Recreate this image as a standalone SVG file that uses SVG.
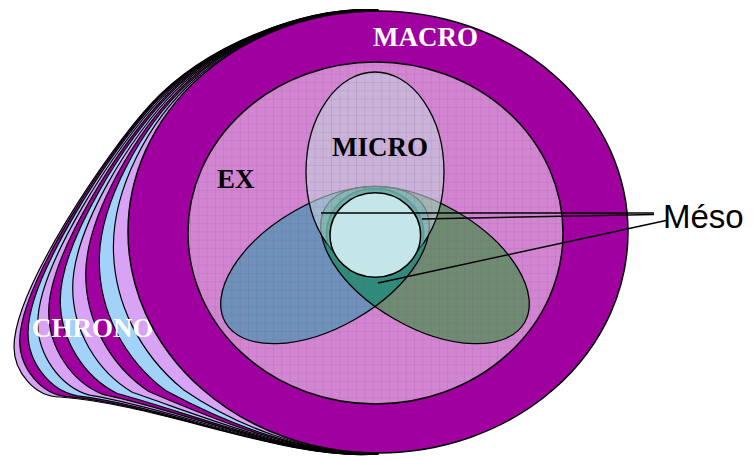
<svg xmlns="http://www.w3.org/2000/svg" width="753" height="459" viewBox="0 0 753 459">
<defs>
<style>
.band{stroke:#000;stroke-width:1.2;stroke-linejoin:round}
.lil{fill:#d9a3f5}.blu{fill:#a2d1fa}.pur{fill:#a000a0}
.edge{fill:none;stroke:#000;stroke-width:1.3}
.lbl{font-family:"Liberation Serif","Times New Roman",serif;font-weight:bold;font-size:27px}
.conn{stroke:#000;stroke-width:1.5;fill:none}
</style>
<pattern id="grid" width="8.3" height="8.3" patternUnits="userSpaceOnUse">
<path d="M8.3 0V8.3M0 8.3H8.3" fill="none" stroke="#7a2a7a" stroke-opacity="0.22" stroke-width="1"/>
</pattern>
<clipPath id="exClip"><ellipse cx="375.5" cy="233" rx="187.5" ry="171"/></clipPath>
<clipPath id="leftClip"><ellipse cx="325" cy="265" rx="115" ry="62" transform="rotate(-30 325 265)"/></clipPath>
</defs>

<g id="chrono">
<path class="band lil" d="M378,10 C305,6 205,45 150,105 C106,153 14,290 14,347 C14,372 35,397 60,397 C160,404 290,462 378,454 L460,232Z"/>
<path class="band pur" d="M378,10 C305.3,6.3 207.2,44.5 152.6,103.5 C108.4,151.2 19.7,284.2 19.7,341.3 C19.7,367.9 41,394.5 67.1,396.6 C164.4,405.3 291.1,461.6 378,454 L460,232Z"/>
<path class="band blu" d="M378,10.1 C305.8,6.6 210.3,43.7 156.3,101.4 C111.9,148.6 28,275.7 28,332.9 C28,362 49.7,390.8 77.4,395.9 C170.8,407.2 292.7,460.9 378,453.9 L460,232Z"/>
<path class="band lil" d="M378,10.2 C306.4,7 214,42.8 160.7,98.9 C116.1,145.5 37.8,265.6 37.8,323 C37.8,355 59.9,386.5 89.5,395.2 C178.4,409.4 294.5,460.1 378,453.8 L460,232Z"/>
<path class="band pur" d="M378,10.3 C307,7.5 218.1,41.8 165.6,96.1 C120.7,142.1 48.7,254.6 48.7,312 C48.7,347.3 71.3,381.8 102.9,394.4 C186.8,411.8 296.6,459.3 378,453.7 L460,232Z"/>
<path class="band blu" d="M378,10.4 C307.7,8 222.5,40.7 170.8,93.1 C125.6,138.4 60.3,242.7 60.3,300.3 C60.3,339 83.4,376.7 117.3,393.5 C195.8,414.4 298.8,458.3 378,453.6 L460,232Z"/>
<path class="band lil" d="M378,10.5 C308.5,8.6 227.2,39.5 176.4,89.9 C130.9,134.5 72.7,230 72.7,287.8 C72.7,330.1 96.4,371.2 132.7,392.5 C205.4,417.2 301.2,457.4 378,453.5 L460,232Z"/>
<path class="band pur" d="M378,10.6 C309.2,9.1 232.1,38.3 182.2,86.6 C136.4,130.4 85.7,216.7 85.7,274.7 C85.7,320.8 110,365.5 148.8,391.5 C215.4,420.2 303.6,456.3 378,453.4 L460,232Z"/>
<path class="band blu" d="M378,10.7 C310,9.7 237.2,37 188.3,83.1 C142.1,126.2 99.3,202.8 99.3,261 C99.3,311.1 124.2,359.5 165.6,390.5 C225.9,423.2 306.2,455.3 378,453.3 L460,232Z"/>
<path class="band lil" d="M378,10.9 C310.8,10.4 242.6,35.7 194.6,79.5 C148.1,121.7 113.4,188.3 113.4,246.7 C113.4,301 139,353.3 183.1,389.4 C236.8,426.4 308.9,454.2 378,453.1 L460,232Z"/>
<text class="lbl" x="32" y="337" fill="#fff">CHRONO</text>
</g>

<g id="macro">
<ellipse cx="378" cy="232" rx="250" ry="221" fill="#a000a0" stroke="#000" stroke-width="1.5"/>
<text class="lbl" x="373" y="46" fill="#fff">MACRO</text>
</g>

<g id="exo">
<ellipse cx="375.5" cy="233" rx="187.5" ry="171" fill="#d286d2" stroke="#000" stroke-width="1.5"/>
<text class="lbl" x="217" y="188" fill="#000">EX</text>
</g>

<g id="meso-left">
<ellipse cx="325" cy="265" rx="115" ry="62" transform="rotate(-30 325 265)" fill="#5595b3" fill-opacity="0.8"/>
</g>
<g id="meso-right">
<ellipse cx="425" cy="265" rx="115" ry="62" transform="rotate(30 425 265)" fill="#568d5a" fill-opacity="0.8"/>
</g>
<g id="meso-overlap" clip-path="url(#leftClip)">
<ellipse cx="425" cy="265" rx="115" ry="62" transform="rotate(30 425 265)" fill="#2a8c7c" fill-opacity="0.9"/>
</g>
<g id="meso-edges">
<ellipse class="edge" cx="325" cy="265" rx="115" ry="62" transform="rotate(-30 325 265)"/>
<ellipse class="edge" cx="425" cy="265" rx="115" ry="62" transform="rotate(30 425 265)"/>
</g>

<g id="micro">
<ellipse cx="375" cy="172" rx="69" ry="100" fill="#c3d2dc" fill-opacity="0.6" stroke="#000" stroke-width="1.3"/>
<text class="lbl" x="332" y="156" fill="#000">MICRO</text>
</g>

<rect x="188" y="62" width="375" height="342" fill="url(#grid)" clip-path="url(#exClip)"/>

<g id="meso-core">
<ellipse cx="375" cy="234" rx="48.5" ry="45.5" fill="#4a9a8c" fill-opacity="0.3" stroke="#3a8a7a" stroke-opacity="0.45" stroke-width="2"/>
<ellipse cx="375.3" cy="235" rx="45.3" ry="42.3" fill="#c4e6e8" stroke="#000" stroke-width="1.5"/>
</g>

<g id="connectors">
<line class="conn" x1="321" y1="213" x2="654" y2="213"/>
<line class="conn" x1="422" y1="219" x2="654" y2="214.5"/>
<line class="conn" x1="378" y1="283" x2="666" y2="220.5"/>
</g>

<g id="meso-label">
<text x="663" y="228" font-family="'Liberation Sans', Arial, sans-serif" font-size="33" fill="#000">Méso</text>
</g>
</svg>
